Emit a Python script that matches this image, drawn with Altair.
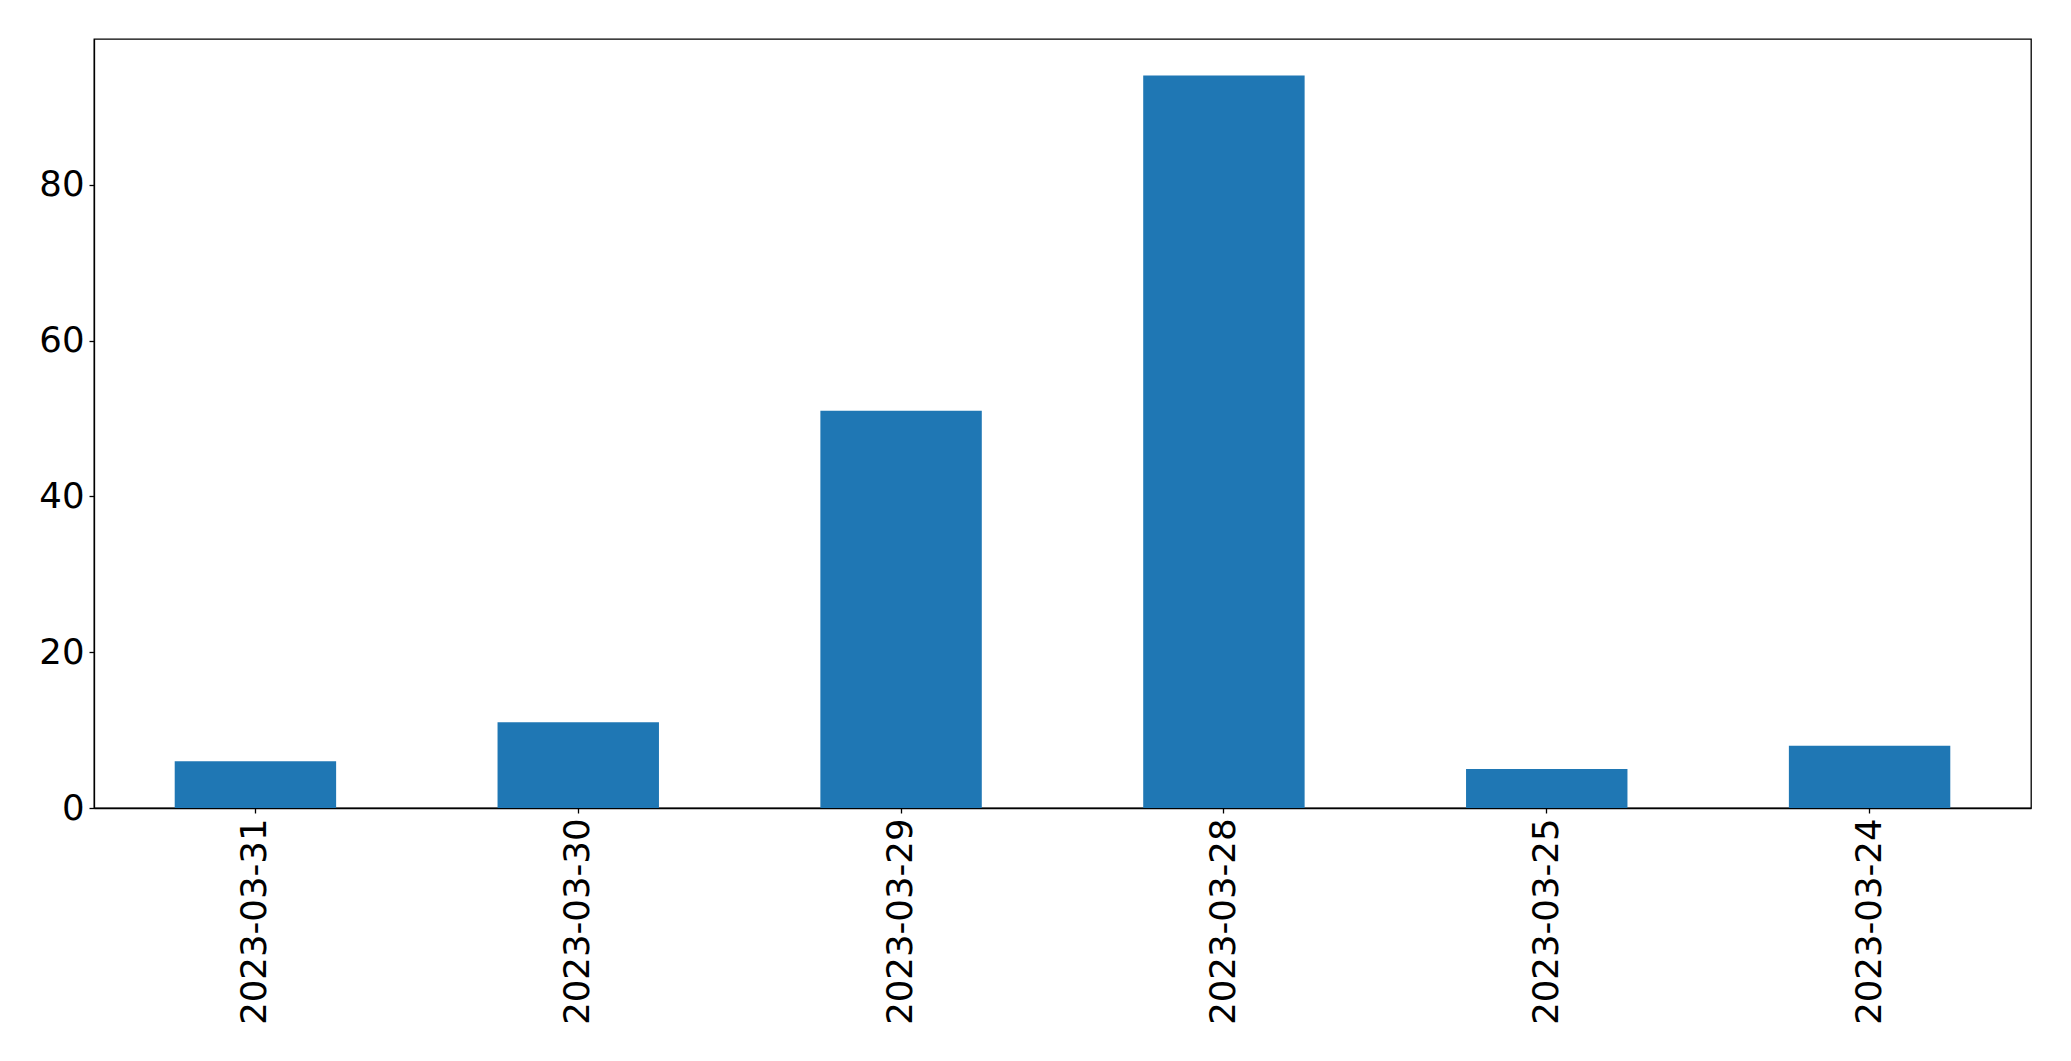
import altair as alt
import pandas as pd

dates = ["2023-03-31", "2023-03-30", "2023-03-29", "2023-03-28", "2023-03-25", "2023-03-24"]
counts = [6, 11, 51, 94, 5, 8]
y_ticks = [0, 20, 40, 60, 80]

df = pd.DataFrame({"date": dates, "count": counts})

chart = alt.Chart(df).mark_bar(color="#1f77b4").encode(
    x=alt.X("date:N", sort=None, title=None,
            scale=alt.Scale(paddingInner=0.5, paddingOuter=0.25),
            axis=alt.Axis(labelAngle=270, labelFontSize=35.5, labelFont="DejaVu Sans",
                          labelColor="black", tickColor="black", tickSize=5,
                          labelPadding=5, labelLimit=0, domainColor="black", domainWidth=1.3,
                          tickWidth=1.3, grid=False)),
    y=alt.Y("count:Q", title=None,
            scale=alt.Scale(domain=[0, 98.7], nice=False, zero=True),
            axis=alt.Axis(values=y_ticks, labelFontSize=35.5, labelFont="DejaVu Sans",
                          labelColor="black", tickColor="black", tickSize=5,
                          labelPadding=5, domainColor="black", domainWidth=1.3,
                          tickWidth=1.3, grid=False)),
).properties(
    width=1937,
    height=769,
    autosize=alt.AutoSizeParams(type="none"),
    padding={"left": 86, "top": 31, "right": 30, "bottom": 240},
).configure_view(
    stroke="black", strokeWidth=1.3
)

chart.save("out.html", embed_options={"renderer": "svg", "actions": False})
